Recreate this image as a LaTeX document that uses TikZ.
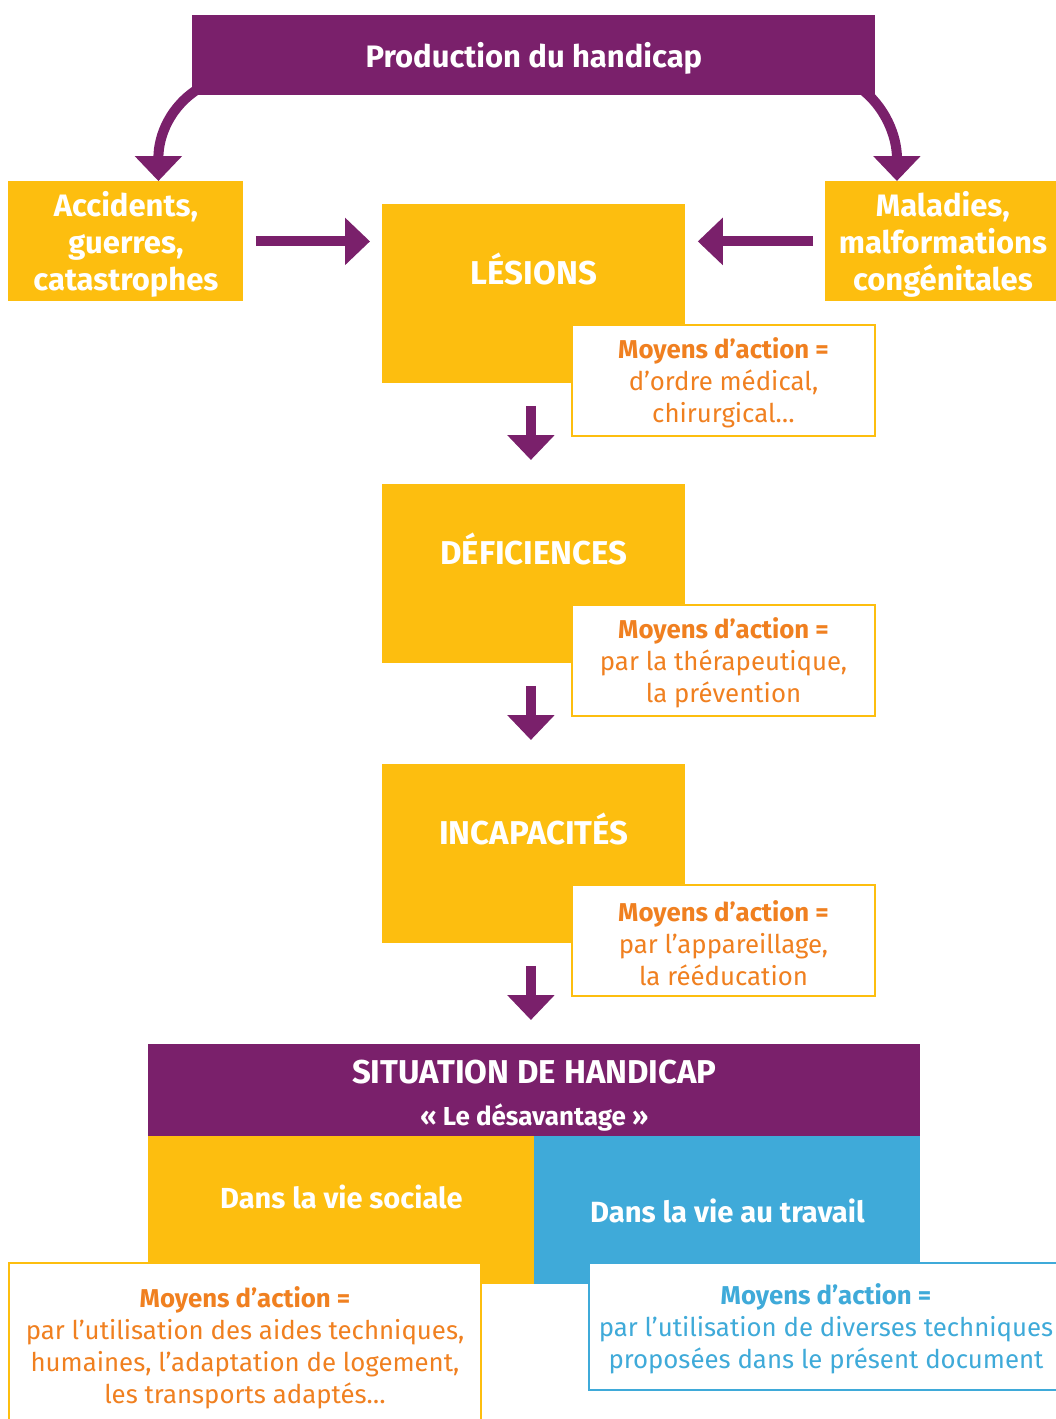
\documentclass[tikz,border=0pt]{standalone}
\usepackage{fontspec}
\setmainfont{Fira Sans}
\usepackage{xcolor}
\usetikzlibrary{positioning,arrows.meta,calc}

\definecolor{hpurple}{HTML}{7A206B}
\definecolor{hyellow}{HTML}{FDBE0F}
\definecolor{horange}{HTML}{F08020}
\definecolor{hblue}{HTML}{3FAAD9}

\newcommand{\firststrut}{\rule{0pt}{1.02em}}

\begin{document}
\begin{tikzpicture}[
    x=0.5pt, y=-0.5pt,
    box/.style={rectangle, anchor=north west, inner sep=0pt, align=center, text=white,
        font=\fontsize{15.5}{18.5}\selectfont\bfseries},
    purplebox/.style={box, fill=hpurple},
    yellowbox/.style={box, fill=hyellow},
    bluebox/.style={box, fill=hblue},
    actionbox/.style={rectangle, anchor=north west, inner sep=0pt, align=center, fill=white,
        draw=hyellow, line width=1pt, text=horange, font=\fontsize{12.9}{16}\selectfont},
    bigarrow/.style={-{Triangle[width=23pt, length=12.5pt]}, line width=5pt, hpurple},
    steptitle/.style={text=white, font=\fontsize{16.5}{19}\selectfont\bfseries}
]
\useasboundingbox (0,0) rectangle (1055,1419);

% top
\node[purplebox, minimum width=341.5pt, minimum height=40pt] (title) at (192,15) {\firststrut Production du handicap};
\node[yellowbox, minimum width=117.5pt, minimum height=60pt] (accidents) at (8,181) {\firststrut Accidents,\\guerres,\\catastrophes};
\node[yellowbox, minimum width=117.5pt, minimum height=60pt] (maladies) at (825,181) {\firststrut Maladies,\\malformations\\congénitales};

\draw[bigarrow] ($(title.south west)+(8,-8)$) .. controls +(-30,18) and +(0,-45) .. ($(accidents.north)+(32.5,0)$);
\draw[bigarrow] ($(title.south east)+(-16,-8)$) .. controls +(25,18) and +(0,-45) .. ($(maladies.north)+(-46,0)$);

% the three steps
\node[yellowbox, minimum width=151.5pt, minimum height=89.5pt,
      label={[steptitle, yshift=12.25pt]center:LÉSIONS}] (lesions) at (382,204) {};
\node[actionbox, minimum width=151.5pt, minimum height=55.5pt] (action1) at (571,324)
    {\firststrut\textbf{Moyens d’action =}\\d’ordre médical,\\chirurgical…};

\node[yellowbox, minimum width=151.5pt, minimum height=89.5pt,
      label={[steptitle, yshift=12.25pt]center:DÉFICIENCES}] (deficiences) at (382,484) {};
\node[actionbox, minimum width=151.5pt, minimum height=55.5pt] (action2) at (571,604)
    {\firststrut\textbf{Moyens d’action =}\\par la thérapeutique,\\la prévention};

\node[yellowbox, minimum width=151.5pt, minimum height=89.5pt,
      label={[steptitle, yshift=12.25pt]center:INCAPACITÉS}] (incapacites) at (382,764) {};
\node[actionbox, minimum width=151.5pt, minimum height=55.5pt] (action3) at (571,884)
    {\firststrut\textbf{Moyens d’action =}\\par l’appareillage,\\la rééducation};

\draw[bigarrow, shorten <=6pt, shorten >=6pt] (accidents) -- (accidents -| lesions.west);
\draw[bigarrow, shorten <=6pt, shorten >=6pt] (maladies) -- (maladies -| lesions.east);
\draw[bigarrow, shorten <=11pt, shorten >=12pt] ([xshift=-1.5pt]lesions.south) -- ([xshift=-1.5pt]deficiences.north);
\draw[bigarrow, shorten <=11pt, shorten >=12pt] ([xshift=-1.5pt]deficiences.south) -- ([xshift=-1.5pt]incapacites.north);

% bottom
\node[purplebox, minimum width=386pt, minimum height=46pt, font=\fontsize{16.5}{19}\selectfont\bfseries] (situation) at (148,1044)
    {\firststrut SITUATION DE HANDICAP\\[2pt]{\fontsize{13}{15}\selectfont « Le désavantage »}};
\draw[bigarrow, shorten <=11pt, shorten >=12pt] ([xshift=-1.5pt]incapacites.south) -- ([xshift=-1.5pt]incapacites.south |- situation.north);

\node[yellowbox, minimum width=193pt, minimum height=74pt,
      label={[steptitle, font=\fontsize{14.5}{17}\selectfont\bfseries, yshift=6.5pt]center:Dans la vie sociale}] (sociale) at (148,1136) {};
\node[bluebox, minimum width=193pt, minimum height=74pt,
      font=\fontsize{14.6}{17}\selectfont\bfseries] (travail) at (534,1136) {Dans la vie au travail};

\node[actionbox, minimum width=236pt, minimum height=82pt] (action4) at (8,1262)
    {\firststrut\textbf{Moyens d’action =}\\par l’utilisation des aides techniques,\\humaines, l’adaptation de logement,\\les transports adaptés…};
\node[actionbox, draw=hblue, text=hblue, minimum width=237pt, minimum height=63.5pt] (action5) at (588,1262)
    {\firststrut\textbf{Moyens d’action =}\\par l’utilisation de diverses techniques\\proposées dans le présent document};
\end{tikzpicture}
\end{document}
